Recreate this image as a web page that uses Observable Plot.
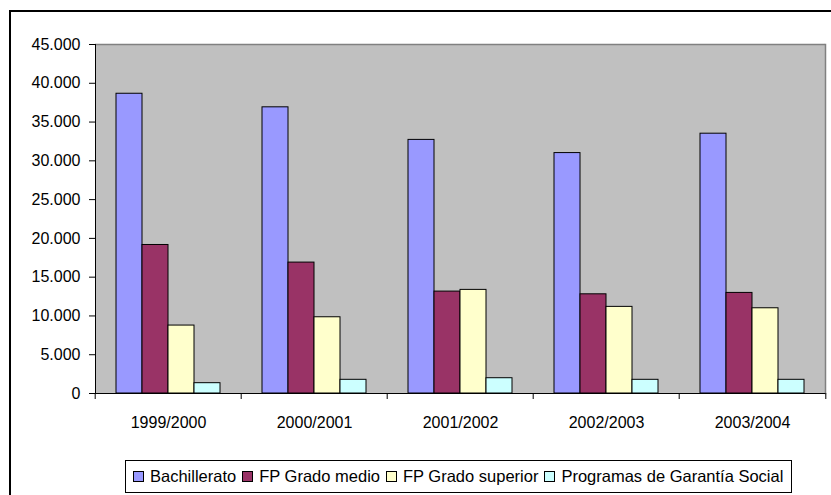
<!DOCTYPE html>
<html>
<head>
<meta charset="utf-8">
<script src="https://cdn.jsdelivr.net/npm/d3@7"></script>
<script src="https://cdn.jsdelivr.net/npm/@observablehq/plot@0.6"></script>
<style>
  html, body { margin: 0; padding: 0; background: #fff; overflow: hidden; width: 831px; height: 495px; }
  #wrap { position: relative; width: 831px; height: 495px; font-family: "Liberation Sans", Arial, sans-serif; color: #000; }
  #border { position: absolute; left: 9px; top: 10px; width: 900px; height: 600px; border-left: 2px solid #000; border-top: 2px solid #000; }
  #chart { position: absolute; left: 0; top: 0; }
  #legend { position: absolute; left: 125px; top: 460px; width: 667px; height: 33px; border: 1px solid #000; box-sizing: border-box;
            display: flex; align-items: center; padding-left: 7px; font-size: 16.5px; background: #fff; white-space: nowrap; }
  .item { display: flex; align-items: center; margin-right: 6px; }
  .sw { width: 9px; height: 9px; border: 1px solid #000; margin-right: 6px; }
</style>
</head>
<body>
<div id="wrap"><div id="border"></div><div id="chart"></div><div id="legend"></div></div>
<script>
const years = ["1999/2000", "2000/2001", "2001/2002", "2002/2003", "2003/2004"];
const seriesNames = ["Bachillerato", "FP Grado medio", "FP Grado superior", "Programas de Garantía Social"];
const bachillerato   = [38650, 36900, 32700, 31000, 33500];
const fpGradoMedio   = [19150, 16880, 13140, 12790, 12970];
const fpGradoSuperior = [8760, 9830, 13360, 11170, 10990];
const garantiaSocial = [1330, 1765, 1970, 1765, 1765];
const seriesColors = ["#9999FF", "#993366", "#FFFFCC", "#CCFFFF"];
const yTicks = [0, 5000, 10000, 15000, 20000, 25000, 30000, 35000, 40000, 45000];

const seriesValues = [bachillerato, fpGradoMedio, fpGradoSuperior, garantiaSocial];
const data = years.flatMap((year, i) =>
  seriesNames.map((series, j) => ({year, series, value: seriesValues[j][i]}))
);

const W = 831, ML = 93, MR = 5;
const facetW = (W - ML - MR) / years.length;
const fmt = d3.formatLocale({decimal: ",", thousands: ".", grouping: [3], currency: ["", ""]}).format(",d");

const chart = Plot.plot({
  width: W,
  height: 455,
  marginLeft: ML,
  marginRight: MR,
  marginTop: 44,
  marginBottom: 62,
  style: {fontFamily: "'Liberation Sans', Arial, sans-serif", fontSize: "16px", background: "transparent", color: "#000", overflow: "visible"},
  fx: {domain: years, padding: 0, label: null},
  x: {domain: seriesNames, paddingInner: 0, paddingOuter: 0.715, axis: null},
  y: {domain: [0, 45000]},
  color: {domain: seriesNames, range: seriesColors},
  marks: [
    Plot.frame({fill: "#C0C0C0", stroke: null, inset: -0.5}),
    Plot.ruleY([45000], {stroke: "#808080", strokeWidth: 1.5}),
    Plot.frame({anchor: "right", facetAnchor: "right", stroke: "#808080", strokeWidth: 1.5}),
    Plot.barY(data, {fx: "year", x: "series", y: "value", fill: "series", stroke: "#000", strokeWidth: 1}),
    Plot.frame({anchor: "left", facetAnchor: "left", stroke: "#000"}),
    Plot.ruleY([0], {stroke: "#000"}),
    Plot.axisY({ticks: yTicks, tickFormat: fmt, tickSize: 6, tickPadding: 9, fontSize: 16, label: null}),
    Plot.axisFx({anchor: "bottom", tickSize: 0, tickPadding: 23, fontSize: 16, label: null}),
    Plot.axisFx({anchor: "bottom", tickSize: 6, tickFormat: () => "", dx: -facetW / 2, label: null}),
    Plot.axisFx({anchor: "bottom", ticks: [years[years.length - 1]], tickSize: 6, tickFormat: () => "", dx: facetW / 2, label: null})
  ]
});
document.getElementById("chart").appendChild(chart);

const legend = document.getElementById("legend");
seriesNames.forEach((name, j) => {
  const item = document.createElement("div");
  item.className = "item";
  const sw = document.createElement("span");
  sw.className = "sw";
  sw.style.background = seriesColors[j];
  const label = document.createElement("span");
  label.textContent = name;
  item.appendChild(sw);
  item.appendChild(label);
  legend.appendChild(item);
});
</script>
</body>
</html>
